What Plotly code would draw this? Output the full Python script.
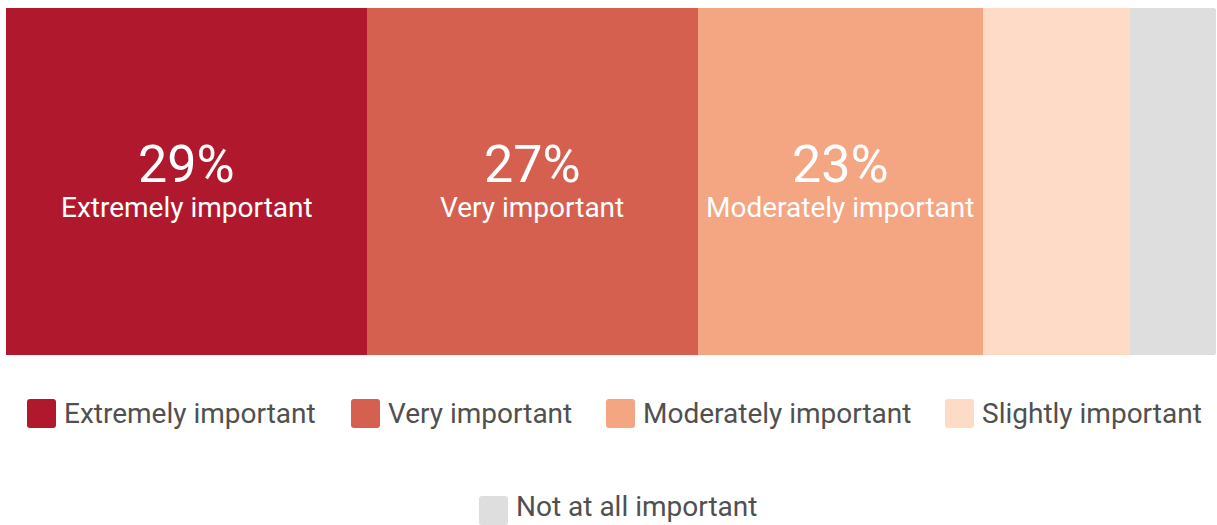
import plotly.graph_objects as go

categories = ["Extremely important", "Very important", "Moderately important",
              "Slightly important", "Not at all important"]
values = [29.4, 26.9, 23.2, 12.0, 7.0]
pct_labels = ["29%", "27%", "23%", "", ""]
colors = ["#b0192d", "#d6604f", "#f4a582", "#fddbc7", "#dedede"]

W, H = 1217, 525
L, R, T, B = 6, 1, 8, 170
PW, PH = W - L - R, H - T - B

FONT = "Roboto"
TXT = "#505050"


def px2x(px):
    return (px - L) / PW


def py2y(py):
    return (H - B - py) / PH


fig = go.Figure()
for cat, v, col in zip(categories, values, colors):
    fig.add_trace(go.Bar(
        x=[v], y=["q"], orientation="h", name=cat,
        marker=dict(color=col, line=dict(width=0)),
        showlegend=False, hoverinfo="skip",
    ))

annotations = []
cum = 0
for cat, v, lab in zip(categories, values, pct_labels):
    mid = cum + v / 2
    cum += v
    if not lab:
        continue
    annotations.append(dict(x=mid, y=0, xref="x", yref="y", text=lab,
                            showarrow=False, yshift=17, xanchor="center", yanchor="middle",
                            font=dict(family=FONT, size=52, color="white")))
    annotations.append(dict(x=mid, y=0, xref="x", yref="y", text=cat,
                            showarrow=False, yshift=-26, xanchor="center", yanchor="middle",
                            font=dict(family=FONT, size=28, color="white")))

# manual legend (swatch left px, swatch top px, text vertical nudge px)
legend_pos = [(27, 399, 0), (351, 399, 0), (606, 399, 0), (945, 399, 0), (479, 496, 4)]
sw = 29
rr = 3
shapes = []
for (x0p, y0p, nudge), cat, col in zip(legend_pos, categories, colors):
    x1p, y1p = x0p + sw, y0p + sw
    pts = [
        ("M", x0p + rr, y0p), ("L", x1p - rr, y0p), ("Q", x1p, y0p, x1p, y0p + rr),
        ("L", x1p, y1p - rr), ("Q", x1p, y1p, x1p - rr, y1p),
        ("L", x0p + rr, y1p), ("Q", x0p, y1p, x0p, y1p - rr),
        ("L", x0p, y0p + rr), ("Q", x0p, y0p, x0p + rr, y0p),
    ]
    path = ""
    for p in pts:
        if p[0] == "Q":
            path += "Q {:.5f},{:.5f} {:.5f},{:.5f} ".format(px2x(p[1]), py2y(p[2]), px2x(p[3]), py2y(p[4]))
        else:
            path += "{} {:.5f},{:.5f} ".format(p[0], px2x(p[1]), py2y(p[2]))
    path += "Z"
    shapes.append(dict(type="path", xref="paper", yref="paper", path=path,
                       fillcolor=col, line=dict(width=0), layer="above"))
    annotations.append(dict(x=px2x(x1p + 6), y=py2y(y0p + sw / 2), xref="paper", yref="paper",
                            text=cat, showarrow=False, xanchor="left", yanchor="middle",
                            yshift=nudge,
                            font=dict(family=FONT, size=28, color=TXT)))

fig.update_layout(
    width=W, height=H,
    margin=dict(l=L, r=R, t=T, b=B, pad=0),
    barmode="stack", bargap=0, barcornerradius=3,
    paper_bgcolor="white", plot_bgcolor="white",
    xaxis=dict(range=[0, sum(values)], visible=False, fixedrange=True),
    yaxis=dict(range=[-0.5, 0.5], visible=False, fixedrange=True),
    showlegend=False,
    annotations=annotations,
    shapes=shapes,
)

fig.write_html("out.html", config={"displayModeBar": False})

with open("out.html", "r", encoding="utf-8") as f:
    html = f.read()
html = html.replace("<body>", '<body style="margin:0;padding:0;">', 1)
with open("out.html", "w", encoding="utf-8") as f:
    f.write(html)
